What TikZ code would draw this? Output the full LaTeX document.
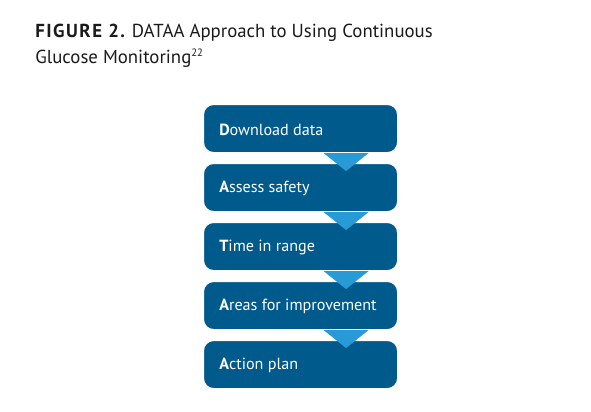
\documentclass[tikz,border=0pt]{standalone}
\usepackage{fontspec}
\setmainfont{PT Sans}
\usetikzlibrary{calc}
\definecolor{boxblue}{RGB}{0,90,140}
\definecolor{triblue}{RGB}{40,155,215}
\definecolor{titlegray}{RGB}{26,26,26}
\begin{document}
\begin{tikzpicture}[x=0.75pt,y=-0.75pt,
  stepbox/.style={draw=white,line width=0.8pt,fill=boxblue,rounded corners=7.5pt,
    minimum width=194*0.75pt,minimum height=48*0.75pt,inner sep=0pt,anchor=north west},
  steplabel/.style={anchor=west,text=white,inner sep=0pt,font=\fontsize{12.1pt}{14pt}\selectfont},
  tri/.style={fill=triblue,draw=none},
  title/.style={text=titlegray,anchor=base west,inner sep=0pt,font=\fontsize{14.1pt}{16pt}\selectfont}]
\useasboundingbox (0,0) rectangle (591,411);
\node[title] (t1) at (35,37) {{\bfseries\addfontfeatures{LetterSpace=8}FIGURE 2.} DATAA Approach to Using Continuous};
\node[title] (t2) at (35,63) {Glucose Monitoring\textsuperscript{\fontsize{8pt}{9pt}\selectfont 22}};
\foreach \i/\y in {1/104,2/163,3/222,4/281,5/340}{
  \node[stepbox] (b\i) at (203,\y) {};
}
\foreach \i/\f/\r in {1/D/ownload data,2/A/ssess safety,3/T/ime in range,4/A/reas for improvement,5/A/ction plan}{
  \node[steplabel] (l\i) at ($(b\i.west)+(16,1)$) {\textbf{\f}\r};
}
\foreach \a in {1,2,3,4}{
  \fill[tri] ($(b\a.south)+(23,0)$) -- ($(b\a.south)+(68,0)$) -- ($(b\a.south)+(45.5,18)$) -- cycle;
}
\end{tikzpicture}
\end{document}
